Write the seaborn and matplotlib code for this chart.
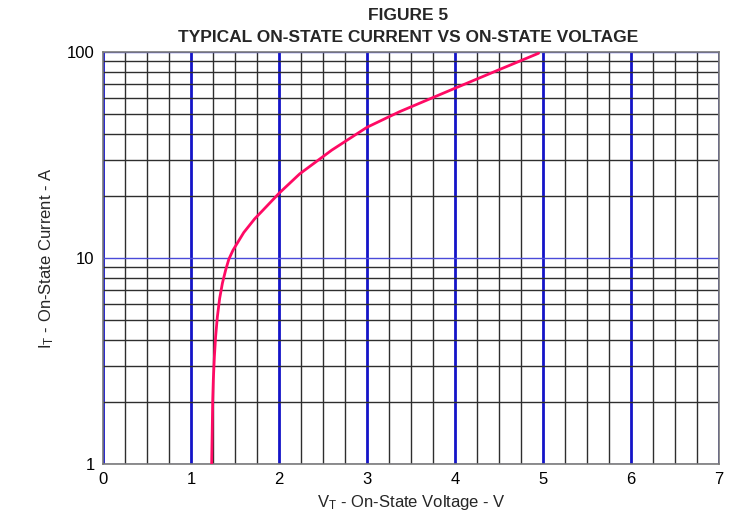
import matplotlib
matplotlib.use("Agg")
import matplotlib.pyplot as plt
import seaborn as sns
import pandas as pd
from matplotlib.ticker import FixedLocator, NullFormatter, FixedFormatter

# Data
voltage = [1.235, 1.241, 1.247, 1.254, 1.266, 1.28, 1.30, 1.326, 1.357, 1.394, 1.43,
           1.477, 1.60, 1.724, 1.82, 2.0, 2.235, 2.6, 3.0, 3.37, 4.0, 4.5, 4.95]
current = [1.0, 1.41, 2.04, 2.56, 3.32, 4.15, 5.19, 6.37, 7.54, 8.74, 9.86,
           10.9, 13.3, 15.5, 17.1, 20.6, 25.6, 33.4, 43.1, 51.3, 66.7, 82.0, 98.6]
x_major = [0, 1, 2, 3, 4, 5, 6, 7]
y_major = [1, 10, 100]
y_major_labels = ["1", "10", "100"]

sns.set_theme(style="white")
plt.rcParams["font.family"] = ["Liberation Sans", "DejaVu Sans"]
plt.rcParams["mathtext.default"] = "regular"

df = pd.DataFrame({"V": voltage, "I": current})

fig = plt.figure(figsize=(7.44, 5.21), dpi=100)
ax = fig.add_axes([0.1384, 0.1094, 0.828, 0.7908])

ax.set_yscale("log")
ax.set_xlim(0, 7)
ax.set_ylim(1, 100)

x_minor = [v / 4 for v in range(1, 28) if v % 4 != 0]
y_minor = [m * d for d in (1, 10) for m in range(2, 10)]
ax.xaxis.set_major_locator(FixedLocator(x_major))
ax.xaxis.set_minor_locator(FixedLocator(x_minor))
ax.yaxis.set_major_locator(FixedLocator(y_major))
ax.yaxis.set_major_formatter(FixedFormatter(y_major_labels))
ax.yaxis.set_minor_locator(FixedLocator(y_minor))
ax.yaxis.set_minor_formatter(NullFormatter())

ax.grid(which="minor", axis="both", color="#2e2e2e", linewidth=1.0)
ax.grid(which="major", axis="x", color="#1414c8", linewidth=2.0)
ax.grid(which="major", axis="y", color="#4a4ad8", linewidth=1.0)
ax.set_axisbelow(True)

sns.lineplot(data=df, x="V", y="I", sort=False, estimator=None,
             color="#ff0a64", linewidth=2.0, ax=ax, zorder=5)

for s in ax.spines.values():
    s.set_color("#7a7a7a")
    s.set_linewidth(1.2)

ax.tick_params(which="both", length=0, labelsize=12, colors="black", pad=6)
ax.set_xlabel("$V_T$ - On-State Voltage - V", fontsize=12, labelpad=4)
ax.set_ylabel("$I_T$ - On-State Current - A", fontsize=12, labelpad=8)

fig.text(0.549, 0.971, "FIGURE 5", ha="center", va="center",
         fontsize=12.5, fontweight="bold")
fig.text(0.549, 0.928, "TYPICAL ON-STATE CURRENT VS ON-STATE VOLTAGE", ha="center", va="center",
         fontsize=12.5, fontweight="bold")

fig.savefig("out.png", dpi=100)
